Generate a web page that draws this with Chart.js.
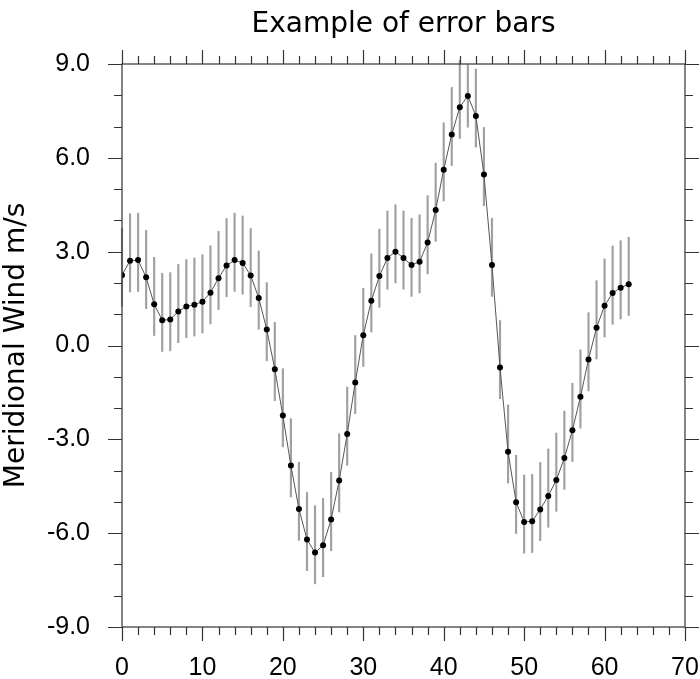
<!DOCTYPE html>
<html>
<head>
<meta charset="utf-8">
<script src="https://cdn.jsdelivr.net/npm/chart.js@4/dist/chart.umd.min.js"></script>
<style>
  body { margin: 0; background: #fff; }
</style>
</head>
<body>
<canvas id="chart" width="700" height="679"></canvas>
<script>
// Dados
const days = [0, 1, 2, 3, 4, 5, 6, 7, 8, 9, 10, 11, 12, 13, 14, 15, 16, 17, 18, 19,
  20, 21, 22, 23, 24, 25, 26, 27, 28, 29, 30, 31, 32, 33, 34, 35, 36, 37, 38, 39,
  40, 41, 42, 43, 44, 45, 46, 47, 48, 49, 50, 51, 52, 53, 54, 55, 56, 57, 58, 59,
  60, 61, 62, 63];

const wind = [2.25, 2.71, 2.73, 2.18, 1.32, 0.81, 0.83, 1.09, 1.25, 1.30,
  1.40, 1.69, 2.15, 2.56, 2.73, 2.64, 2.24, 1.52, 0.51, -0.76,
  -2.24, -3.84, -5.23, -6.20, -6.62, -6.39, -5.56, -4.32, -2.83, -1.18,
  0.33, 1.43, 2.22, 2.80, 3.00, 2.80, 2.57, 2.68, 3.29, 4.33,
  5.62, 6.75, 7.62, 7.98, 7.34, 5.47, 2.57, -0.70, -3.40, -5.01,
  -5.64, -5.62, -5.24, -4.81, -4.30, -3.60, -2.71, -1.64, -0.45, 0.57,
  1.27, 1.68, 1.85, 1.96];

// tamanho das barras de erro (acima / abaixo do ponto)
const errAbove = [1.5, 1.5, 1.5, 1.5, 1.5, 1.5, 1.5, 1.5, 1.5, 1.5,
  1.5, 1.5, 1.5, 1.5, 1.5, 1.5, 1.5, 1.5, 1.5, 1.5,
  1.5, 1.5, 1.5, 1.5, 1.5, 1.5, 1.5, 1.5, 1.5, 1.5,
  1.5, 1.5, 1.5, 1.5, 1.5, 1.5, 1.5, 1.5, 1.5, 1.5,
  1.5, 1.5, 1.5, 1.0, 1.5, 1.5, 1.5, 1.5, 1.5, 1.5,
  1.5, 1.5, 1.5, 1.5, 1.5, 1.5, 1.5, 1.5, 1.5, 1.5,
  1.5, 1.5, 1.5, 1.5];
const errBelow = [1.0, 1.0, 1.0, 1.0, 1.0, 1.0, 1.0, 1.0, 1.0, 1.0,
  1.0, 1.0, 1.0, 1.0, 1.0, 1.0, 1.0, 1.0, 1.0, 1.0,
  1.0, 1.0, 1.0, 1.0, 1.0, 1.0, 1.0, 1.0, 1.0, 1.0,
  1.0, 1.0, 1.0, 1.0, 1.0, 1.0, 1.0, 1.0, 1.0, 1.0,
  1.0, 1.0, 1.0, 1.0, 1.0, 1.0, 1.0, 1.0, 1.0, 1.0,
  1.0, 1.0, 1.0, 1.0, 1.0, 1.0, 1.0, 1.0, 1.0, 1.0,
  1.0, 1.0, 1.0, 1.0];

const xTicks = [0, 10, 20, 30, 40, 50, 60, 70];
const yTicks = [-9, -6, -3, 0, 3, 6, 9];

const linePoints = days.map((d, i) => ({ x: d, y: wind[i] }));
const errorBars = days.map((d, i) => ({ x: d, y: [wind[i] - errBelow[i], wind[i] + errAbove[i]] }));

// Moldura com marcas maiores e menores nos quatro lados
const frameTicks = {
  id: 'frameTicks',
  afterDraw(chart) {
    const { ctx, chartArea: a, scales: { x, y } } = chart;
    ctx.save();
    ctx.strokeStyle = '#333';
    ctx.lineWidth = 1.2;
    ctx.strokeRect(a.left, a.top, a.right - a.left, a.bottom - a.top);
    ctx.beginPath();
    for (let v = 0; v <= 70; v += 2) {
      const px = Math.round(x.getPixelForValue(v)) + 0.5;
      const len = xTicks.includes(v) ? 14 : 8;
      ctx.moveTo(px, a.bottom); ctx.lineTo(px, a.bottom + len);
      ctx.moveTo(px, a.top); ctx.lineTo(px, a.top - len);
    }
    for (let v = -9; v <= 9; v += 1) {
      const py = Math.round(y.getPixelForValue(v)) + 0.5;
      const len = yTicks.includes(v) ? 14 : 8;
      ctx.moveTo(a.left, py); ctx.lineTo(a.left - len, py);
      ctx.moveTo(a.right, py); ctx.lineTo(a.right + len, py);
    }
    ctx.stroke();
    ctx.restore();
  }
};

new Chart(document.getElementById('chart'), {
  type: 'line',
  data: {
    datasets: [{
      type: 'line',
      data: linePoints,
      borderColor: '#555',
      borderWidth: 1,
      pointRadius: 3,
      pointBackgroundColor: '#000',
      pointBorderColor: '#000',
      pointBorderWidth: 0,
      tension: 0,
      order: 1
    }, {
      type: 'bar',
      data: errorBars,
      backgroundColor: '#a0a0a0',
      barThickness: 1.5,
      clip: false,
      order: 2
    }]
  },
  options: {
    responsive: false,
    animation: false,
    devicePixelRatio: 1,
    layout: { padding: { left: 0, right: 15, top: 0, bottom: 0 } },
    plugins: {
      legend: { display: false },
      tooltip: { enabled: false },
      title: {
        display: true,
        text: 'Example of error bars',
        fullSize: false,
        color: '#000',
        font: { family: 'DejaVu Sans', size: 28, weight: 'normal' },
        padding: { top: 8, bottom: 22.4 }
      }
    },
    scales: {
      x: {
        type: 'linear',
        min: 0,
        max: 70,
        offset: false,
        // o espaço até os rótulos vem do tickLength (marcas invisíveis)
        grid: { display: false, drawTicks: true, tickLength: 25, tickColor: 'rgba(0,0,0,0)' },
        border: { display: false },
        ticks: {
          stepSize: 10,
          padding: 1,
          color: '#000',
          font: { family: 'Liberation Sans', size: 25 }
        },
        afterFit(scale) { scale.height = 52; }
      },
      y: {
        min: -9,
        max: 9,
        grid: { display: false, drawTicks: false },
        border: { display: false },
        ticks: {
          stepSize: 3,
          padding: 32,
          color: '#000',
          font: { family: 'Liberation Sans', size: 25 },
          callback: (v) => v.toFixed(1)
        },
        title: {
          display: true,
          text: 'Meridional Wind m/s',
          color: '#000',
          font: { family: 'DejaVu Sans', size: 28, weight: 'normal' },
          padding: 0
        },
        afterFit(scale) { scale.width = 122; }
      }
    }
  },
  plugins: [frameTicks]
});
</script>
</body>
</html>
